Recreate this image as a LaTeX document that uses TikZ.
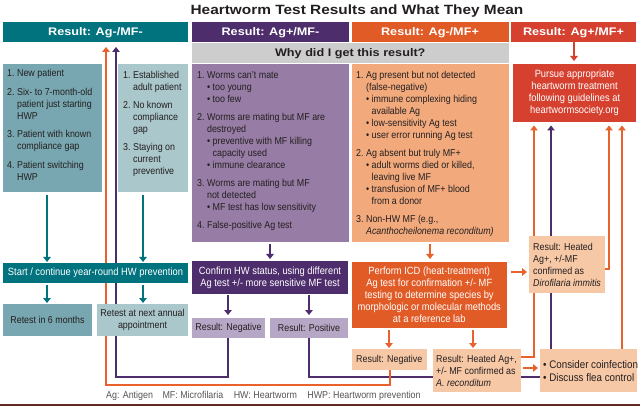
\documentclass[tikz,border=0pt]{standalone}
\usepackage{fontspec}
\setmainfont{Liberation Sans}[FakeStretch=0.89]
\newfontfamily\hfont{Liberation Sans}[FakeStretch=1.15]
\usetikzlibrary{arrows.meta}
\pgfdeclarelayer{bg}
\pgfsetlayers{bg,main}
\definecolor{tealD}{HTML}{00737F}
\definecolor{tealG}{HTML}{78A7B1}
\definecolor{tealL}{HTML}{AAC7CB}
\definecolor{purD}{HTML}{4E2D6C}
\definecolor{purM}{HTML}{977CA5}
\definecolor{purL}{HTML}{B7A7C6}
\definecolor{orD}{HTML}{E15B27}
\definecolor{orL}{HTML}{F2AA7D}
\definecolor{peach}{HTML}{F7C8A6}
\definecolor{redD}{HTML}{D5402F}
\definecolor{grayB}{HTML}{CDCDCD}
\definecolor{orLn}{HTML}{E8622D}
\definecolor{txt}{HTML}{231F20}
\definecolor{legC}{HTML}{555555}
\definecolor{stripC}{HTML}{5E2A22}
\newcommand\lbox[2]{\parbox[t]{#1}{\raggedright #2}}
\begin{document}
\begin{tikzpicture}[x=1pt,y=-1pt,
  every node/.append style={text=txt},
  bx/.style={anchor=north west, inner sep=0pt, outer sep=0pt, align=center},
  hdr/.style={bx, text=white, font=\hfont\bfseries\fontsize{11}{13}\selectfont},
  wt/.style={text=white, font=\fontsize{10.5}{12}\selectfont},
  dk/.style={font=\fontsize{10}{12}\selectfont},
  lst/.style={anchor=base west, inner sep=0pt, font=\fontsize{10}{12}\selectfont},
  ltx/.style={anchor=west, inner sep=0pt, align=left},
  arT/.style={draw=tealD, line width=1.8pt, -{Triangle[width=7.5pt,length=5pt]}},
  arP/.style={draw=purD, line width=1.8pt, -{Triangle[width=7.5pt,length=5pt]}},
  arO/.style={draw=orLn, line width=1.8pt, -{Triangle[width=7.5pt,length=5pt]}},
  arR/.style={draw=redD, line width=1.8pt, -{Triangle[width=7.5pt,length=5pt]}}]
\useasboundingbox (0,0) rectangle (640,406);
\begin{pgfonlayer}{bg}
\fill[white] (0,0) rectangle (640,406);
\end{pgfonlayer}

% title
\node[font=\hfont\bfseries\fontsize{13.4}{15}\selectfont] (title) at (357,11) {Heartworm Test Results and What They Mean};

% headers
\node[hdr, fill=tealD, minimum width=185, minimum height=20.5] (hA) at (3,22) {Result: Ag-/MF-};
\node[hdr, fill=purD, minimum width=157, minimum height=20.5] (hB) at (192,22) {Result: Ag+/MF-};
\node[hdr, fill=orD, minimum width=157, minimum height=20.5] (hC) at (351.5,22) {Result: Ag-/MF+};
\node[hdr, fill=redD, minimum width=125, minimum height=20.5] (hD) at (511,22) {Result: Ag+/MF+};
\node[hdr, text=txt, fill=grayB, minimum width=316.5, minimum height=19.5] (why) at (192,43.5) {Why did I get this result?};

% big boxes
\node[bx, fill=tealG, minimum width=99, minimum height=128] (b1) at (3,64) {};
\node[bx, fill=tealL, minimum width=70, minimum height=128] (b2) at (118,64) {};
\node[bx, fill=purM, minimum width=157, minimum height=178] (pbox) at (192,64) {};
\node[bx, fill=orL, minimum width=157, minimum height=178] (obox) at (351.5,64) {};
\node[bx, fill=redD, wt, minimum width=123, minimum height=58] (pursue) at (513,64) {Pursue appropriate\\heartworm treatment\\following guidelines at\\heartwormsociety.org};

\node[lst] (b1t) at (7,76.6) {\lbox{95pt}{%
1.\ New patient\\[6.5pt]
2.\ Six- to 7-month-old\\
\phantom{2.\ }patient just starting\\
\phantom{2.\ }HWP\\[6.5pt]
3.\ Patient with known\\
\phantom{3.\ }compliance gap\\[6.5pt]
4.\ Patient switching\\
\phantom{4.\ }HWP}};

\node[lst] (b2t) at (123,78.6) {\lbox{70pt}{%
1.\ Established\\
\phantom{1.\ }adult patient\\[6pt]
2.\ No known\\
\phantom{2.\ }compliance\\
\phantom{2.\ }gap\\[6pt]
3.\ Staying on\\
\phantom{3.\ }current\\
\phantom{3.\ }preventive}};

\node[lst] (pt) at (197,78.6) {\lbox{160pt}{%
1.\ Worms can’t mate\\
\phantom{1.\ }•\ too young\\
\phantom{1.\ }•\ too few\\[6pt]
2.\ Worms are mating but MF are\\
\phantom{2.\ }destroyed\\
\phantom{2.\ }•\ preventive with MF killing\\
\phantom{2.\ •\ }capacity used\\
\phantom{2.\ }•\ immune clearance\\[6pt]
3.\ Worms are mating but MF\\
\phantom{3.\ }not detected\\
\phantom{3.\ }•\ MF test has low sensitivity\\[6pt]
4.\ False-positive Ag test}};

\node[lst] (ot) at (356,78.6) {\lbox{160pt}{%
1.\ Ag present but not detected\\
\phantom{1.\ }(false-negative)\\
\phantom{1.\ }•\ immune complexing hiding\\
\phantom{1.\ •\ }available Ag\\
\phantom{1.\ }•\ low-sensitivity Ag test\\
\phantom{1.\ }•\ user error running Ag test\\[6pt]
2.\ Ag absent but truly MF+\\
\phantom{2.\ }•\ adult worms died or killed,\\
\phantom{2.\ •\ }leaving live MF\\
\phantom{2.\ }•\ transfusion of MF+ blood\\
\phantom{2.\ •\ }from a donor\\[6pt]
3.\ Non-HW MF (e.g.,\\
\phantom{3.\ }\textit{Acanthocheilonema reconditum)}}};

% lower boxes
\node[bx, fill=tealD, wt, minimum width=185, minimum height=20] (start) at (3,263) {Start / continue year-round HW prevention};
\node[bx, fill=tealG, dk, minimum width=89, minimum height=32] (ret6) at (3,304) {Retest in 6 months};
\node[bx, fill=tealL, dk, minimum width=91, minimum height=32] (retA) at (97,304) {Retest at next annual\\appointment};
\node[bx, fill=purD, wt, minimum width=156, minimum height=33] (conf) at (192,261) {Confirm HW status, using different\\Ag test +/- more sensitive MF test};
\node[bx, fill=purL, dk, minimum width=73, minimum height=20] (pneg) at (192,318) {Result: Negative};
\node[bx, fill=purL, dk, minimum width=78, minimum height=20] (ppos) at (270,318) {Result: Positive};
\node[bx, fill=orD, wt, minimum width=155.5, minimum height=66] (icd) at (351.5,262) {Perform ICD (heat-treatment)\\Ag test for confirmation +/- MF\\testing to determine species by\\morphologic or molecular methods\\at a reference lab};
\node[bx, fill=peach, dk, minimum width=75.5, minimum height=21] (oneg) at (351.5,349) {Result: Negative};
\node[bx, fill=peach, minimum width=88, minimum height=43] (arec) at (433,349) {};
\node[ltx, dk] (arect) at (436,371) {Result: Heated Ag+,\\+/- MF confirmed as\\\textit{A. reconditum}};
\node[bx, fill=peach, minimum width=76, minimum height=57] (diro) at (529,236) {};
\node[ltx, dk] (dirot) at (533,265) {Result: Heated\\Ag+, +/-MF\\confirmed as\\\textit{Dirofilaria immitis}};
\node[bx, fill=peach, minimum width=97, minimum height=43] (cons) at (540,349) {};
\node[ltx, font=\fontsize{11}{13}\selectfont] (const) at (543,371.5) {•\ Consider coinfection\\•\ Discuss flea control};

% legend
\node[anchor=west, inner sep=0pt, text=legC, font=\fontsize{10}{12}\selectfont] (legend) at (106,396) {Ag: Antigen\hspace{7pt} MF: Microfilaria\hspace{8pt} HW: Heartworm\hspace{8pt} HWP: Heartworm prevention};
\fill[stripC] (0,403.5) rectangle (640,406);

% connectors
\begin{pgfonlayer}{bg}
\draw[arT, shorten <=3pt, shorten >=1pt] (47,0 |- b1.south) -- (47,0 |- start.north);
\draw[arT, shorten <=3pt, shorten >=1pt] (143,0 |- b2.south) -- (143,0 |- start.north);
\draw[arT, shorten <=2pt, shorten >=1pt] (47,0 |- start.south) -- (47,0 |- ret6.north);
\draw[arT, shorten <=2pt, shorten >=1pt] (143,0 |- start.south) -- (143,0 |- retA.north);

\draw[arP, shorten <=2pt, shorten >=2pt] (270,0 |- pbox.south) -- (270,0 |- conf.north);
\draw[arP, shorten <=1pt, shorten >=3pt] (228,0 |- conf.south) -- (228,0 |- pneg.north);
\draw[arP, shorten <=1pt, shorten >=3pt] (309,0 |- conf.south) -- (309,0 |- ppos.north);
\draw[arP, shorten >=4.5pt] (228,0 |- pneg.south) -- (228,377) -- (116,377) -- (116,0 |- hA.south);
\draw[arP, shorten >=3.5pt] (309,0 |- ppos.south) -- (309,377) -- (551,377) -- (551,0 |- pursue.south);

\draw[arO, shorten <=2pt, shorten >=3pt] (430,0 |- obox.south) -- (430,0 |- icd.north);
\draw[arO, shorten <=2pt, shorten >=1pt] (389,0 |- icd.south) -- (389,0 |- oneg.north);
\draw[arO, shorten <=2pt, shorten >=1pt] (473,0 |- icd.south) -- (473,0 |- arec.north);
\draw[arO, shorten >=4.5pt] (390,0 |- oneg.south) -- (390,385) -- (106,385) -- (106,0 |- hA.south);
\draw[arO, shorten <=4pt, shorten >=2pt] (icd.east |- 0,272) -- (diro.west |- 0,272);
\draw[arO, shorten <=2pt, shorten >=2pt] (arec.east |- 0,368) -- (cons.west |- 0,368);
\draw[arO, shorten >=3.5pt] (arec.east |- 0,357) -- (534,357) -- (534,0 |- pursue.south);
\draw[arO, shorten >=3.5pt] (diro.east |- 0,269) -- (609,269) -- (609,0 |- pursue.south);
\draw[arO, shorten >=3.5pt] (622,0 |- cons.north) -- (622,0 |- pursue.south);
\draw[arR, shorten >=3pt] (574,0 |- hD.south) -- (574,0 |- pursue.north);
\end{pgfonlayer}
\end{tikzpicture}
\end{document}
